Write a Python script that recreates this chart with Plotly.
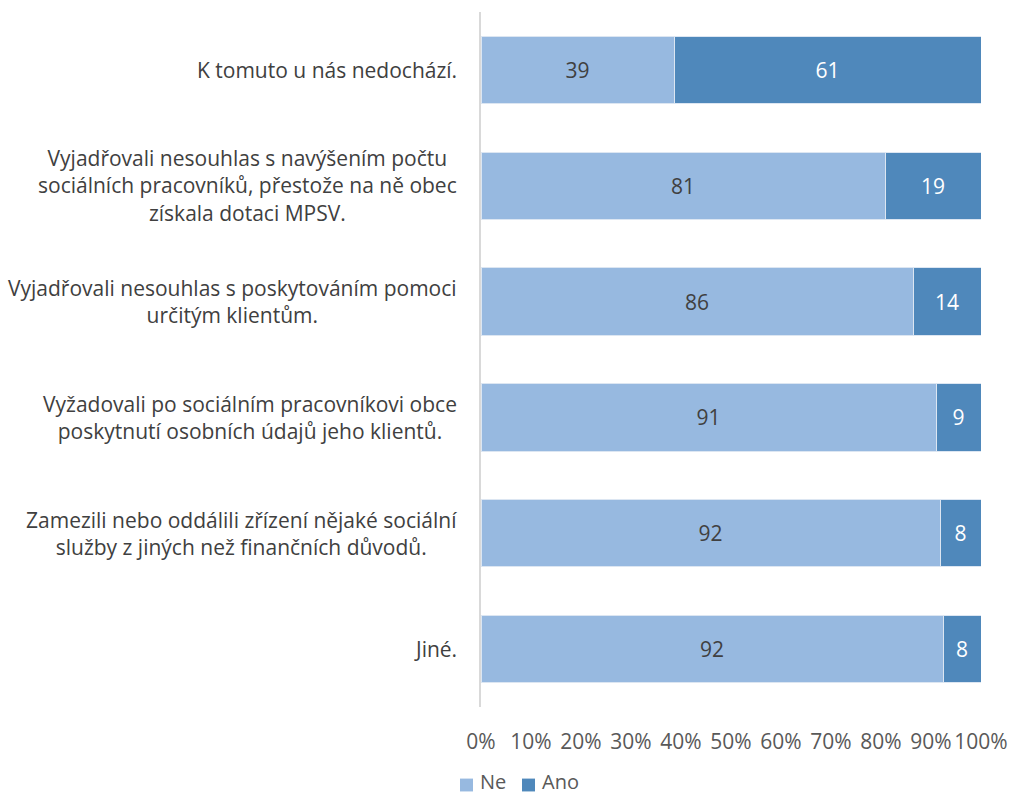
import plotly.graph_objects as go

categories = [
    "K tomuto u nás nedochází.",
    "Vyjadřovali nesouhlas s navýšením počtu<br>sociálních pracovníků, přestože na ně obec<br>získala dotaci MPSV.",
    "Vyjadřovali nesouhlas s poskytováním pomoci<br>určitým klientům.",
    "Vyžadovali po sociálním pracovníkovi obce<br>poskytnutí osobních údajů jeho klientů.",
    "Zamezili nebo oddálili zřízení nějaké sociální<br>služby z jiných než finančních důvodů.",
    "Jiné.",
]
ne_values = [38.6, 80.8, 86.4, 91.0, 91.8, 92.4]
ano_values = [61.4, 19.2, 13.6, 9.0, 8.2, 7.6]
series_names = ["Ne", "Ano"]
tick_vals = [0, 10, 20, 30, 40, 50, 60, 70, 80, 90, 100]
tick_text = ["0%", "10%", "20%", "30%", "40%", "50%", "60%", "70%", "80%", "90%", "100%"]

FONT = "Open Sans"
C_NE = "#97B9E0"
C_ANO = "#4F88BB"
FS = 21

fig = go.Figure()
fig.add_trace(go.Bar(
    y=categories, x=ne_values, name=series_names[0], orientation="h",
    marker=dict(color=C_NE, line=dict(color="#DCE6F2", width=1)),
    texttemplate="%{x:.0f}", textposition="inside", insidetextanchor="middle",
    textfont=dict(family=FONT, size=FS, color="#404040"),
))
fig.add_trace(go.Bar(
    y=categories, x=ano_values, name=series_names[1], orientation="h",
    marker=dict(color=C_ANO, line=dict(color="#DCE6F2", width=1)),
    texttemplate="%{x:.0f}", textposition="inside", insidetextanchor="middle",
    textfont=dict(family=FONT, size=FS, color="white"),
))

annotations = []
for cat in categories:
    annotations.append(dict(
        x=0, xref="paper", y=cat, yref="y", text=cat, showarrow=False,
        xanchor="right", yanchor="middle", align="center", xshift=-22,
        font=dict(family=FONT, size=FS, color="#404040"),
    ))

# manual legend (plot area: x 481..981, y 12..707)
shapes = []
legend_items = [(series_names[0], C_NE, -0.042, -0.016, -0.004),
                (series_names[1], C_ANO, 0.082, 0.108, 0.120)]
for name, col, sx0, sx1, tx in legend_items:
    shapes.append(dict(type="rect", xref="paper", yref="paper",
                       x0=sx0, x1=sx1, y0=-0.1215, y1=-0.103,
                       fillcolor=col, line=dict(width=0)))
    annotations.append(dict(x=tx, xref="paper", y=-0.1285, yref="paper",
                            text=name, showarrow=False, xanchor="left",
                            yanchor="bottom", borderpad=0,
                            font=dict(family=FONT, size=20, color="#595959")))

fig.update_layout(
    barmode="stack",
    bargap=0.42,
    width=1010, height=799,
    margin=dict(l=481, r=29, t=12, b=92),
    paper_bgcolor="white", plot_bgcolor="white",
    font=dict(family=FONT, color="#595959"),
    xaxis=dict(range=[0, 100], tickvals=tick_vals, ticktext=tick_text,
               showgrid=False, zeroline=False, showline=False, automargin=False,
               tickfont=dict(family=FONT, size=FS, color="#595959"),
               ticks="", ticklabelstandoff=20),
    yaxis=dict(autorange="reversed", showticklabels=False, showgrid=False,
               zeroline=False, showline=True, linecolor="#D9D9D9", linewidth=2,
               ticks="", automargin=False),
    annotations=annotations,
    shapes=shapes,
    showlegend=False,
)
fig.write_html("out.html")
